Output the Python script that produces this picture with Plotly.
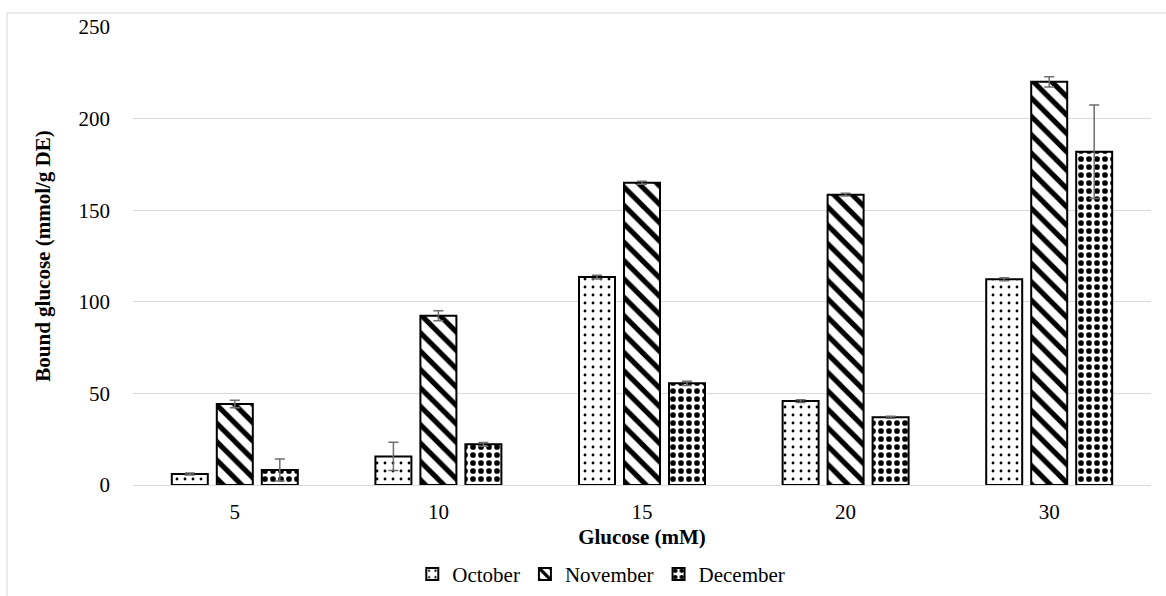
import plotly.graph_objects as go

categories = ["5", "10", "15", "20", "30"]
october = [6.0, 15.6, 113.5, 45.8, 112.3]
october_err = [0.5, 7.7, 1.0, 0.8, 0.8]
november = [44.2, 92.4, 165.0, 158.5, 220.1]
november_err = [2.0, 2.7, 0.8, 0.7, 2.8]
december = [8.2, 22.2, 55.5, 37.0, 181.9]
december_err = [6.0, 1.0, 1.2, 0.5, 25.5]

FONT = "Liberation Serif"
FS = 21
ERR_COLOR = "#6e6e6e"

def err(vals):
    return dict(type="data", array=vals, visible=True, color=ERR_COLOR, thickness=1.5, width=5)

def marker(shape, size, solidity):
    return dict(color="white", line=dict(color="black", width=2),
                pattern=dict(shape=shape, fgcolor="black", bgcolor="white", fgopacity=1,
                             size=size, solidity=solidity, fillmode="replace"))

fig = go.Figure()
fig.add_trace(go.Bar(name="October", x=categories, y=october, error_y=err(october_err),
                     marker=marker(".", 8, 0.1)))
fig.add_trace(go.Bar(name="November", x=categories, y=november, error_y=err(november_err),
                     marker=marker("\\", 13, 0.4)))
fig.add_trace(go.Bar(name="December", x=categories, y=december, error_y=err(december_err),
                     marker=marker(".", 8, 0.4)))

fig.update_layout(
    width=1166, height=596,
    margin=dict(l=133, r=15, t=27, b=111, autoexpand=False),
    paper_bgcolor="white", plot_bgcolor="white",
    barmode="group", bargap=0.337, bargroupgap=0.2,
    font=dict(family=FONT, size=FS, color="black"),
    showlegend=True,
    legend=dict(orientation="h", x=0.46, xanchor="center", y=-0.195, yanchor="middle",
                font=dict(family=FONT, size=FS, color="black"), itemwidth=30,
                tracegroupgap=0, bgcolor="rgba(0,0,0,0)"),
    xaxis=dict(type="category", showgrid=False, showline=True, linecolor="#d9d9d9", linewidth=1,
               ticks="", ticklabelstandoff=8, automargin=False,
               tickfont=dict(family=FONT, size=FS, color="black"),
               title=dict(text="<b>Glucose (mM)</b>", font=dict(family=FONT, size=FS, color="black"),
                          standoff=6)),
    yaxis=dict(range=[0, 250], dtick=50, showgrid=True, gridcolor="#d9d9d9", gridwidth=1,
               zeroline=True, zerolinecolor="#d9d9d9", zerolinewidth=1, automargin=False,
               showline=False, ticks="", ticklabelstandoff=22,
               tickfont=dict(family=FONT, size=FS, color="black"),
               title=dict(text="<b>Bound glucose (mmol/g DE)</b>",
                          font=dict(family=FONT, size=FS, color="black"), standoff=22)),
    shapes=[dict(type="rect", xref="paper", yref="paper",
                 x0=(7 - 133) / 1018, x1=1.2, y0=-0.6, y1=(485 - 13) / 458,
                 line=dict(color="#d9d9d9", width=1), fillcolor="rgba(0,0,0,0)", layer="below")],
)

fig.write_html("out.html")
